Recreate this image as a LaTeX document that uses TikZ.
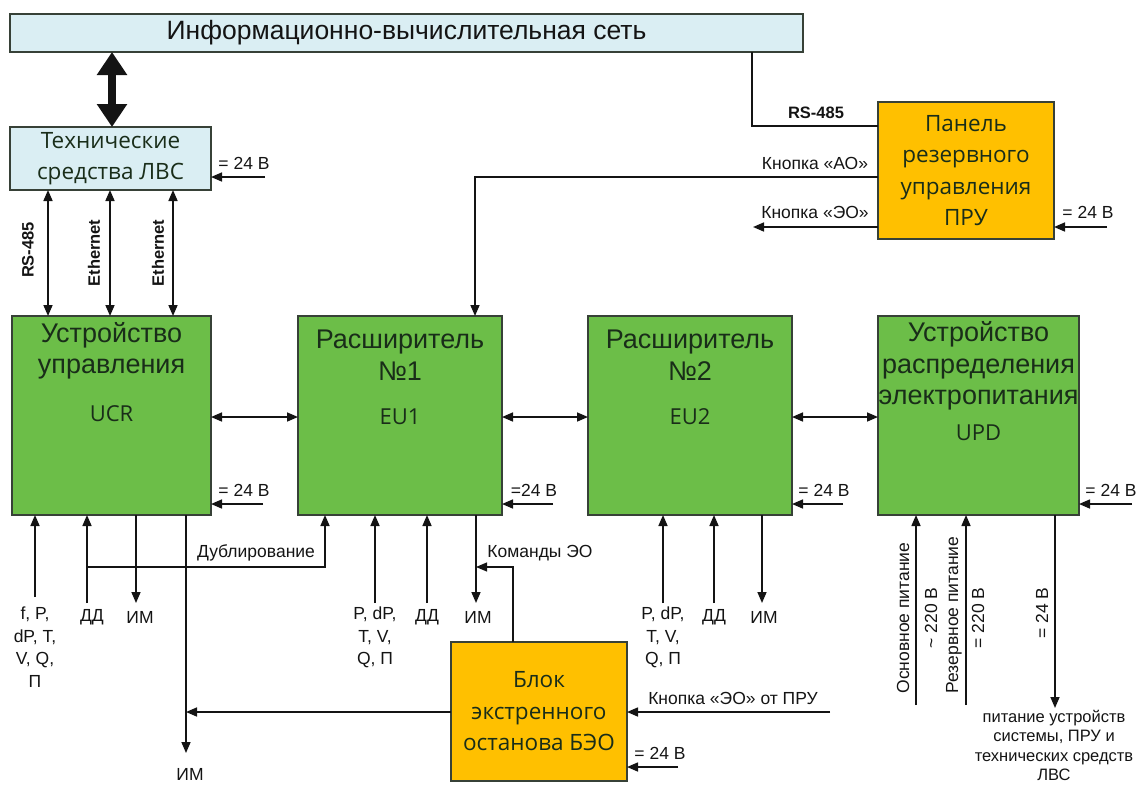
\documentclass[tikz,border=0pt]{standalone}
\usepackage{fontspec}
\setmainfont{Liberation Sans}
\newfontfamily\osans{Open Sans}
\usetikzlibrary{arrows.meta,calc}
\definecolor{gfill}{RGB}{108,190,72}
\definecolor{yfill}{RGB}{255,192,0}
\definecolor{bfill}{RGB}{218,238,243}
\definecolor{edge}{RGB}{55,65,55}
\definecolor{ink}{RGB}{20,20,20}
\definecolor{gtxt}{RGB}{25,45,25}
\begin{document}
\begin{tikzpicture}[x=1pt,y=-1pt,
  box/.style={draw=edge, line width=1.3pt, inner sep=0pt, outer sep=0pt},
  gbox/.style={box, fill=gfill, minimum width=#1, minimum height=199pt},
  ybox/.style={box, fill=yfill, minimum width=176pt, text=gtxt, align=center,
     font=\osans\fontsize{22.5}{31.5}\selectfont},
  gt/.style={align=center, text=gtxt, inner sep=0pt, font=\fontsize{27}{31.5}\selectfont},
  gc/.style={text=gtxt, inner sep=0pt, font=\osans\fontsize{22}{25}\selectfont},
  wire/.style={line width=1.6pt, draw=ink},
  thin/.style={line width=1.1pt, draw=black!65},
  arr/.style={wire, -{Triangle[length=11pt,width=9pt]}},
  tarr/.style={thin, -{Triangle[length=11pt,width=9pt]}, ink},
  darr/.style={wire, {Triangle[length=11pt,width=9pt]}-{Triangle[length=11pt,width=9pt]}},
  bigarr/.style={line width=8pt, draw=ink, {Triangle[length=23pt,width=29pt]}-{Triangle[length=23pt,width=29pt]}},
  lab/.style={inner sep=0pt, text=ink, font=\fontsize{17.5}{22}\selectfont, align=center},
  rlab/.style={lab, rotate=90},
  blab/.style={inner sep=0pt, text=ink, font=\bfseries\fontsize{16.5}{18}\selectfont}
]
\useasboundingbox (0,0) rectangle (1141,785);

% ---------- boxes ----------
\node[box, fill=bfill, minimum width=793pt, minimum height=38pt, text=ink,
      font=\fontsize{26.5}{30}\selectfont] (net) at (406.5,33) {Информационно-вычислительная сеть};
\node[box, fill=bfill, minimum width=201pt, minimum height=63pt, text=gtxt, align=center,
      font=\osans\fontsize{22.5}{31}\selectfont] (tech) at (110.5,158.5) {Технические\\средства ЛВС};

\node[gbox=199pt] (ucr) at (111.5,415.5) {};
\node[gbox=204pt] (eu1) at (400,415.5) {};
\node[gbox=204pt] (eu2) at (690,415.5) {};
\node[gbox=201pt] (upd) at (978.5,415.5) {};

\node[gt] (ucrt) at (ucr.north |- 0,351) {Устройство\\управления};
\node[gc] (ucrc) at (ucr.north |- 0,414) {UCR};
\node[gt] (eu1t) at (eu1.north |- 0,355) {Расширитель\\№1};
\node[gc] (eu1c) at (eu1.north |- 0,417) {EU1};
\node[gt] (eu2t) at (eu2.north |- 0,355) {Расширитель\\№2};
\node[gc] (eu2c) at (eu2.north |- 0,417) {EU2};
\node[gt] (updt) at (upd.north |- 0,366) {Устройство\\распределения\\электропитания};
\node[gc] (updc) at (upd.north |- 0,433) {UPD};

\node[ybox, minimum height=137pt] (pru) at (966,170.5) {Панель\\резервного\\управления\\ПРУ};
\node[ybox, minimum height=139pt] (beo) at (539,711.5) {Блок\\экстренного\\останова БЭО};

% ---------- network links ----------
\draw[bigarr] (tech.north -| 112,0) -- (net.south -| 112,0);
\draw[darr] (tech.south -| 48,0) -- (ucr.north -| 48,0);
\draw[darr] (tech.south -| 110,0) -- (ucr.north -| 110,0);
\draw[darr] (tech.south -| 173,0) -- (ucr.north -| 173,0);
\node[blab, rotate=90] (l485) at (28,250) {RS-485};
\node[blab, rotate=90] (leth1) at (94,253) {Ethernet};
\node[blab, rotate=90] (leth2) at (158,253) {Ethernet};

% 24 V to tech
\coordinate (tp) at (265,177);
\draw[arr] (tp) -- (tech.east |- tp);
\node[lab] (ltp) at (244,163) {= 24 В};

% ---------- horizontal links between blocks ----------
\draw[darr] (ucr.east |- 0,417) -- (eu1.west |- 0,417);
\draw[darr] (eu1.east |- 0,417) -- (eu2.west |- 0,417);
\draw[darr] (eu2.east |- 0,417) -- (upd.west |- 0,417);

% ---------- 24 V inputs ----------
\coordinate (p1) at (263,504);
\draw[arr] (p1) -- (ucr.east |- p1);
\node[lab] (lp1) at (244,490) {= 24 В};
\coordinate (p2) at (553,504);
\draw[arr] (p2) -- (eu1.east |- p2);
\node[lab] (lp2) at (534,490) {=24 В};
\coordinate (p3) at (843,504);
\draw[arr] (p3) -- (eu2.east |- p3);
\node[lab] (lp3) at (824,490) {= 24 В};
\coordinate (p4) at (1132,504);
\draw[arr] (p4) -- (upd.east |- p4);
\node[lab] (lp4) at (1111,490) {= 24 В};

% ---------- PRU ----------
\draw[wire] (net.south -| 752,0) |- (pru.west |- 0,126);
\node[blab] (lrs) at (816,113) {RS-485};
\draw[arr] (pru.west |- 0,177) -| (eu1.north -| 475,0);
\node[lab] (lao) at (815,163) {Кнопка «АО»};
\coordinate (eo) at (753,227);
\draw[arr] (pru.west |- eo) -- (eo);
\node[lab] (leo) at (815,212) {Кнопка «ЭО»};
\coordinate (pp) at (1107,227);
\draw[arr] (pp) -- (pru.east |- pp);
\node[lab] (lpp) at (1088,212) {= 24 В};

% ---------- UCR bottom ----------
\coordinate (s1) at (35,597);
\draw[arr] (s1) -- (ucr.south -| s1);
\node[lab, anchor=north, font=\fontsize{17.5}{22.5}\selectfont] (ls1) at (35,607) {f, P,\\dP, T,\\V, Q,\\П};
\coordinate (d1) at (87,603);
\draw[arr] (d1) -- (ucr.south -| d1);
\node[lab] (ld1) at (92,617) {ДД};
\coordinate (m1) at (136,603);
\draw[arr] (ucr.south -| m1) -- (m1);
\node[lab] (lm1) at (140,617) {ИМ};
\coordinate (dup) at (87,567);
\draw[arr] (dup) -| (eu1.south -| 325,0);
\node[lab] (ldup) at (256,553) {Дублирование};
\coordinate (m0) at (186,753);
\draw[arr] (ucr.south -| m0) -- (m0);
\node[lab] (lm0) at (190,774) {ИМ};
\draw[arr] (beo.west |- 0,712) -- (186,712);

% ---------- EU1 bottom ----------
\coordinate (s2) at (375,603);
\draw[arr] (s2) -- (eu1.south -| s2);
\node[lab, anchor=north, font=\fontsize{17.5}{22.5}\selectfont] (ls2) at (375,607) {P, dP,\\T, V,\\Q, П};
\coordinate (d2) at (427,603);
\draw[arr] (d2) -- (eu1.south -| d2);
\node[lab] (ld2) at (427,617) {ДД};
\coordinate (m2) at (476,603);
\draw[arr] (eu1.south -| m2) -- (m2);
\node[lab] (lm2) at (478,617) {ИМ};
\draw[tarr] (beo.north -| 513,0) |- (476,567);
\node[lab] (lcmd) at (540,553) {Команды ЭО};

% ---------- EU2 bottom ----------
\coordinate (s3) at (663,603);
\draw[arr] (s3) -- (eu2.south -| s3);
\node[lab, anchor=north, font=\fontsize{17.5}{22.5}\selectfont] (ls3) at (663,607) {P, dP,\\T, V,\\Q, П};
\coordinate (d3) at (714,603);
\draw[arr] (d3) -- (eu2.south -| d3);
\node[lab] (ld3) at (714,617) {ДД};
\coordinate (m3) at (762,603);
\draw[arr] (eu2.south -| m3) -- (m3);
\node[lab] (lm3) at (764,617) {ИМ};

% ---------- BEO inputs ----------
\coordinate (bk) at (830,712);
\draw[arr] (bk) -- (beo.east |- bk);
\node[lab] (lbk) at (733,698) {Кнопка «ЭО» от ПРУ};
\coordinate (bp) at (678,767);
\draw[arr] (bp) -- (beo.east |- bp);
\node[lab] (lbp) at (660,753) {= 24 В};

% ---------- UPD bottom ----------
\coordinate (u1) at (916,705);
\draw[arr] (u1) -- (upd.south -| u1);
\node[rlab] (lu1a) at (903,618) {Основное питание};
\node[rlab] (lu1b) at (931,618) {\textasciitilde{} 220 В};
\coordinate (u2) at (966,705);
\draw[arr] (u2) -- (upd.south -| u2);
\node[rlab] (lu2a) at (954,615) {Резервное питание};
\node[rlab] (lu2b) at (978,618) {= 220 В};
\coordinate (u3) at (1055,708);
\draw[arr] (upd.south -| u3) -- (u3);
\node[rlab] (lu3) at (1042,613) {= 24 В};
\node[lab, anchor=north, font=\fontsize{16.5}{19.5}\selectfont] (lu3t) at (1054,710) {питание устройств\\системы, ПРУ и\\технических средств\\ЛВС};
\end{tikzpicture}
\end{document}
